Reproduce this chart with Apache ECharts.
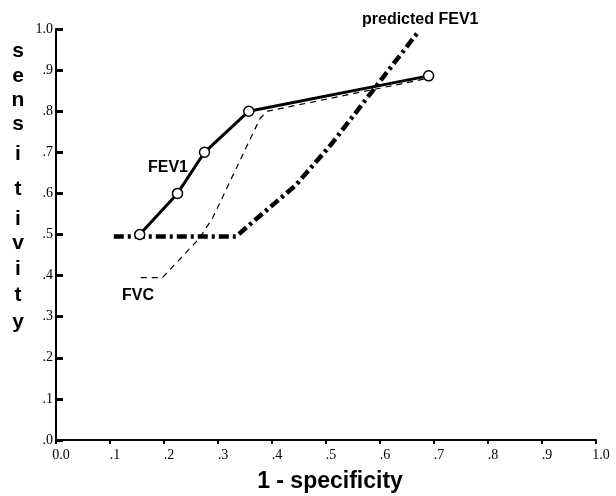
<!DOCTYPE html>
<html>
<head>
<meta charset="utf-8">
<script src="https://cdn.jsdelivr.net/npm/echarts@6/dist/echarts.min.js"></script>
<style>html,body{margin:0;padding:0;background:#fff}#c{width:616px;height:496px}</style>
</head>
<body>
<div id="c"></div>
<script>
// Data
var fev1X = [0.155, 0.225, 0.275, 0.357, 0.69];
var fev1Y = [0.50, 0.60, 0.70, 0.80, 0.886];
var fvcX = [0.157, 0.197, 0.265, 0.29, 0.378, 0.392, 0.70];
var fvcY = [0.395, 0.395, 0.49, 0.54, 0.783, 0.800, 0.883];
var predX = [0.107, 0.333, 0.444, 0.51, 0.669];
var predY = [0.495, 0.495, 0.62, 0.72, 0.99];
var xTickLabels = ['0.0', '.1', '.2', '.3', '.4', '.5', '.6', '.7', '.8', '.9', '1.0'];
var yTickLabels = ['.0', '.1', '.2', '.3', '.4', '.5', '.6', '.7', '.8', '.9', '1.0'];
var yTitleLetters = ['s', 'e', 'n', 's', 'i', 't', 'i', 'v', 'i', 't', 'y'];
var xTitle = '1 - specificity';
var labelFEV1 = 'FEV1', labelFVC = 'FVC', labelPred = 'predicted FEV1';

function pairs(xs, ys) { return xs.map(function (x, i) { return [x, ys[i]]; }); }
function idx(v) { return Math.round(v * 10); }

var letterBaselines = [59, 84, 108, 132, 162, 197, 227, 251, 277, 303, 330];
var graphics = yTitleLetters.map(function (ch, i) {
  return { type: 'text', x: 18, y: letterBaselines[i] - 7.4,
    style: { text: ch, font: 'bold 21px "Liberation Sans"', fill: '#000', align: 'center', verticalAlign: 'middle' } };
});
graphics.push({ type: 'text', x: 330, y: 482, style: { text: xTitle, font: 'bold 23px "Liberation Sans"', fill: '#000', align: 'center', verticalAlign: 'middle' } });
graphics.push({ type: 'text', x: 362, y: 19.4, style: { text: labelPred, font: 'bold 16px "Liberation Sans"', fill: '#000', align: 'left', verticalAlign: 'middle' } });
graphics.push({ type: 'text', x: 148, y: 167.4, style: { text: labelFEV1, font: 'bold 16px "Liberation Sans"', fill: '#000', align: 'left', verticalAlign: 'middle' } });
graphics.push({ type: 'text', x: 122, y: 295.4, style: { text: labelFVC, font: 'bold 16px "Liberation Sans"', fill: '#000', align: 'left', verticalAlign: 'middle' } });

var chart = echarts.init(document.getElementById('c'), null, { renderer: 'canvas' });
chart.setOption({
  animation: false,
  backgroundColor: '#fff',
  grid: { left: 56, right: 20, top: 29, bottom: 56, containLabel: false },
  xAxis: {
    type: 'value', min: 0, max: 1, interval: 0.1,
    axisLine: { show: true, onZero: false, lineStyle: { color: '#000', width: 2 } },
    axisTick: { show: true, inside: false, length: 4, lineStyle: { color: '#000', width: 2 } },
    splitLine: { show: false },
    axisLabel: { color: '#000', fontFamily: '"Liberation Serif"', fontSize: 14, margin: 8, padding: [0, 0, 0, 10],
      formatter: function (v) { return xTickLabels[idx(v)]; } }
  },
  yAxis: {
    type: 'value', min: 0, max: 1, interval: 0.1,
    axisLine: { show: true, onZero: false, lineStyle: { color: '#000', width: 2 } },
    axisTick: { show: true, inside: true, length: 7, lineStyle: { color: '#000', width: 3 } },
    splitLine: { show: false },
    axisLabel: { color: '#000', fontFamily: '"Liberation Serif"', fontSize: 14, margin: 3,
      formatter: function (v) { return yTickLabels[idx(v)]; } }
  },
  graphic: graphics,
  series: [
    { name: labelPred, type: 'line', data: pairs(predX, predY), symbol: 'none', z: 3,
      lineStyle: { color: '#000', width: 4.5, type: [10, 4, 3, 4], cap: 'butt' } },
    { name: labelFVC, type: 'line', data: pairs(fvcX, fvcY), symbol: 'none', z: 2,
      lineStyle: { color: '#000', width: 1.2, type: [6, 5] } },
    { name: labelFEV1, type: 'line', data: pairs(fev1X, fev1Y), symbol: 'circle', symbolSize: 10, z: 4,
      itemStyle: { color: '#fff', borderColor: '#000', borderWidth: 1.5 },
      lineStyle: { color: '#000', width: 3 } }
  ]
});
</script>
</body>
</html>
